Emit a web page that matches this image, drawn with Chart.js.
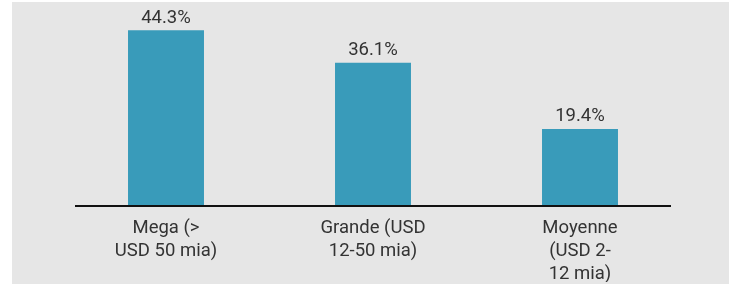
<!DOCTYPE html>
<html>
<head>
<meta charset="utf-8">
<script src="https://cdn.jsdelivr.net/npm/chart.js@4/dist/chart.umd.min.js"></script>
<style>
  html, body { margin: 0; padding: 0; background: #ffffff; }
  body { width: 735px; height: 284px; position: relative; overflow: hidden; }
  #panel { position: absolute; left: 12px; top: 2px; width: 717px; height: 282px; background: #e6e6e6; }
  #panel canvas { display: block; }
</style>
</head>
<body>
<div id="panel"><canvas id="c" width="717" height="282"></canvas></div>
<script>
const categories = [
  ["Mega (>", "USD 50 mia)"],
  ["Grande (USD", "12-50 mia)"],
  ["Moyenne", "(USD 2-", "12 mia)"]
];
const shares = [44.3, 36.1, 19.4];
const valueLabels = ["44.3%", "36.1%", "19.4%"];

const FONT = "Roboto, 'Liberation Sans', sans-serif";
const TEXT = "#333333";

const valueLabelPlugin = {
  id: 'valueLabels',
  afterDatasetsDraw(chart) {
    const ctx = chart.ctx;
    const meta = chart.getDatasetMeta(0);
    ctx.save();
    ctx.font = "18.5px " + FONT;
    ctx.fillStyle = TEXT;
    ctx.textAlign = 'center';
    ctx.textBaseline = 'bottom';
    meta.data.forEach((bar, i) => {
      ctx.fillText(valueLabels[i], bar.x, bar.y - 3);
    });
    ctx.restore();
  }
};

const axisLinePlugin = {
  id: 'axisLine',
  afterDatasetsDraw(chart) {
    const ctx = chart.ctx;
    const a = chart.chartArea;
    const y = chart.scales.y.getPixelForValue(0);
    ctx.save();
    ctx.strokeStyle = '#111111';
    ctx.lineWidth = 2;
    ctx.beginPath();
    ctx.moveTo(a.left + 12.5, y);
    ctx.lineTo(a.right - 12.5, y);
    ctx.stroke();
    ctx.restore();
  }
};

new Chart(document.getElementById('c'), {
  type: 'bar',
  data: {
    labels: categories,
    datasets: [{
      data: shares,
      backgroundColor: '#399bba',
      borderWidth: 0,
      categoryPercentage: 0.367,
      barPercentage: 1.0
    }]
  },
  options: {
    responsive: false,
    animation: false,
    devicePixelRatio: 1,
    layout: { padding: { left: 50.5, right: 45.5, top: 5.5, bottom: 2 } },
    plugins: {
      legend: { display: false },
      tooltip: { enabled: false }
    },
    scales: {
      x: {
        grid: { display: false },
        border: { display: false },
        afterFit(scale) { scale.height -= 7; },
        ticks: {
          color: TEXT,
          font: { family: FONT, size: 18.5, lineHeight: 1.243 },
          padding: 3,
          maxRotation: 0,
          autoSkip: false
        }
      },
      y: {
        display: false,
        min: 0,
        max: 50
      }
    }
  },
  plugins: [valueLabelPlugin, axisLinePlugin]
});
</script>
</body>
</html>
